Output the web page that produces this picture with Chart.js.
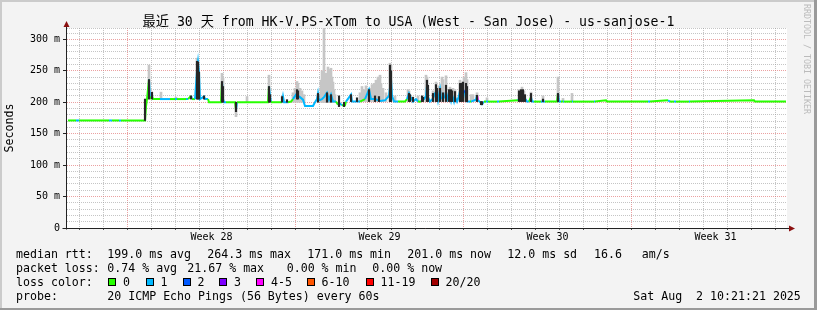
<!DOCTYPE html>
<html>
<head>
<meta charset="utf-8">
<script src="https://cdn.jsdelivr.net/npm/chart.js@4.4.1/dist/chart.umd.min.js"></script>
<style>
  html, body { margin: 0; padding: 0; background: #f3f3f3; }
  #wrap { position: relative; width: 817px; height: 310px; overflow: hidden; font-family: 'DejaVu Sans Mono', monospace; color: #000; }
  #chart { position: absolute; left: 0; top: 0; }
  #title { position: absolute; left: 0; top: 13.5px; width: 817px; text-align: center; white-space: pre;
           font-family: 'DejaVu Sans Mono', 'Noto Sans CJK SC', monospace; font-size: 13.2px; line-height: 16px; }
  .t { position: absolute; white-space: pre; font-size: 11.6px; line-height: 14px; }
  .sw { position: absolute; width: 6px; height: 6px; border: 1px solid #000; }
  #credit { position: absolute; left: 802px; top: 4px; writing-mode: vertical-rl; font-size: 8.3px; line-height: 10px; color: #bbb; white-space: pre; }
</style>
</head>
<body>
<div id="wrap">
  <canvas id="chart" width="817" height="310"></canvas>
  <div id="title">最近 30 天 from HK-V.PS-xTom to USA (West - San Jose) - us-sanjose-1</div>
  <div id="credit">RRDTOOL / TOBI OETIKER</div>
  <div id="legend"></div>
</div>
<script>
// x values are hours since the start of the 30 day window, y values are ms
const weekLabels = ['Week 28', 'Week 29', 'Week 30', 'Week 31'];
const weekLabelHours = [144.5, 312.5, 480.5, 648.5];
const weekLineHours = [60.5, 228.5, 396.5, 564.5];
const yLabelValues = [0, 50, 100, 150, 200, 250, 300];
const yLabelTexts = ['0', '50 m', '100 m', '150 m', '200 m', '250 m', '300 m'];

const lossLabels = ['0', '1', '2', '3', '4-5', '6-10', '11-19', '20/20'];
const lossColors = ['#26ff00', '#00b8ff', '#0059ff', '#7e00ff', '#ff00ff', '#ff5500', '#ff0000', '#a10000'];

// median rtt
const medianHours = [
  1, 9, 12, 42, 45, 52, 54, 78,
  79, 80, 82, 83, 85, 86, 93, 103, 108, 110, 119, 121, 124, 125, 128, 130, 131, 132, 133, 137, 138, 141, 142,
  154, 155, 156, 157, 159, 168, 169, 170,
  201, 202, 203, 204, 215, 216, 217, 221,
  224, 226, 229, 231, 233, 236, 238, 246, 248, 250, 251, 252, 255, 257, 260, 262, 264, 266, 269, 271,
  273, 275, 278, 279, 284, 285, 289, 293, 298, 302, 304, 308, 313, 318, 322, 324, 325, 327, 331, 338,
  340, 342, 344, 346, 349, 351, 354, 357, 359, 360, 361, 363,
  366, 368, 370, 371, 373, 374, 376, 378, 379, 381, 383, 384, 385, 387, 388, 390, 392, 394, 395, 396,
  398, 399, 400, 403, 404, 409, 410, 411, 414, 415, 417, 419, 421, 430, 432,
  451, 453, 455, 456, 458, 460, 462, 464, 465, 467, 474, 476, 478, 490, 491, 492, 494, 496, 497, 505,
  506, 527, 528, 539, 540, 581, 583, 601, 603, 607, 609, 622, 623, 687, 688, 719
];
const medianMs = [
  171, 171, 171, 171, 171, 171, 171, 171,
  193, 205, 236, 205, 210, 205, 205, 205, 205, 205, 205, 205, 210, 205, 205, 250, 264, 248, 205, 209, 205, 205, 200,
  200, 232, 205, 200, 200, 200, 188, 200,
  200, 225, 210, 200, 200, 209, 200, 200,
  201, 205, 212, 210, 208, 204, 194, 194, 200, 205, 214, 203, 205, 208, 215, 204, 212, 201, 201, 196,
  198, 195, 195, 201, 212, 201, 201, 201, 205, 220, 205, 205, 202, 203, 210, 237, 210, 201, 201, 201,
  205, 214, 207, 201, 205, 201, 201, 205, 210, 226, 208, 201,
  206, 214, 212, 203, 220, 207, 205, 210, 217, 204, 210, 203, 212, 201, 208, 201, 210, 227, 214, 220,
  215, 205, 201, 201, 201, 204, 211, 203, 199, 197, 201, 201, 201, 201, 201,
  203, 207, 212, 210, 206, 201, 201, 208, 201, 201, 201, 201, 201, 201, 214, 201, 201, 201, 201, 201,
  201, 201, 201, 203, 201, 201, 201, 203, 201, 201, 201, 201, 201, 203, 201, 201
];
// index into lossColors
const medianLoss = [
  0, 1, 0, 1, 0, 1, 0, 0,
  0, 0, 1, 0, 0, 0, 1, 0, 1, 0, 1, 0, 1, 0, 1, 1, 1, 1, 1, 1, 1, 0, 0,
  0, 1, 1, 1, 0, 0, 1, 0,
  0, 1, 1, 0, 1, 1, 1, 0,
  0, 1, 1, 1, 1, 1, 1, 1, 1, 1, 1, 1, 1, 1, 1, 1, 1, 1, 0, 1,
  1, 0, 0, 1, 1, 1, 1, 0, 1, 1, 1, 1, 1, 1, 1, 1, 1, 1, 0, 0,
  1, 1, 1, 1, 1, 0, 1, 1, 1, 4, 1, 1,
  1, 1, 1, 1, 1, 1, 1, 1, 1, 1, 1, 1, 1, 1, 1, 1, 1, 4, 1, 2,
  1, 1, 1, 0, 1, 1, 4, 1, 1, 1, 0, 1, 0, 1, 0,
  1, 1, 2, 4, 1, 1, 0, 1, 1, 0, 1, 1, 0, 0, 1, 1, 0, 1, 0, 1,
  0, 1, 0, 0, 0, 1, 0, 1, 0, 1, 0, 1, 0, 0, 0, 0
];

// smoke: spread of the 20 pings (light = outer, dark = dense part)
const lightHours = [82, 94, 109, 130, 131, 155, 156, 169, 180, 202, 226, 228, 230, 231, 233, 235, 237,
  254, 255, 256, 257, 258, 259, 260, 261, 262, 263, 264, 265, 266, 267, 268,
  293, 295, 297, 299, 301, 303, 305, 307, 309, 311, 312, 313, 314, 316, 319, 323, 324, 328,
  341, 342, 351, 359, 360, 366, 369, 372, 375, 376, 379, 383, 386, 388, 393, 395, 397, 399, 400,
  404, 406, 410, 420, 452, 455, 457, 464, 476, 491, 496, 505];
const lightLo = [205, 205, 205, 205, 205, 200, 200, 177, 200, 200, 200, 200, 200, 200, 200, 200, 200,
  200, 200, 200, 200, 200, 200, 200, 200, 200, 200, 200, 200, 200, 200, 200,
  201, 201, 201, 201, 201, 201, 201, 201, 201, 201, 201, 201, 201, 201, 201, 201, 201, 201,
  201, 201, 201, 201, 201, 201, 201, 201, 201, 201, 201, 201, 201, 201, 201, 201, 201, 201, 201,
  201, 201, 201, 201, 201, 201, 201, 201, 201, 201, 201, 201];
const lightHi = [259, 216, 208, 270, 266, 246, 238, 200, 209, 243, 215, 222, 233, 230, 222, 218, 212,
  235, 250, 246, 318, 240, 246, 238, 256, 245, 252, 254, 240, 232, 220, 212,
  215, 225, 220, 226, 218, 222, 228, 230, 235, 240, 236, 243, 230, 222, 215, 262, 259, 210,
  220, 218, 210, 243, 240, 218, 232, 226, 240, 236, 242, 224, 222, 220, 235, 232, 240, 247, 236,
  212, 212, 215, 207, 220, 224, 218, 216, 210, 240, 206, 214];

const darkHours = [78, 82, 85, 124, 130, 131, 132, 137, 155, 156, 169, 202, 203, 215, 220, 230, 231,
  251, 260, 264, 272, 277, 284, 290, 302, 308, 312, 323, 324, 342, 343, 346, 355, 356, 360, 361,
  366, 369, 370, 373, 376, 379, 382, 384, 385, 388, 393, 394, 396, 399, 400, 410, 414, 415,
  452, 454, 456, 458, 464, 476, 491];
const darkLo = [171, 205, 205, 205, 205, 205, 205, 205, 200, 200, 185, 200, 200, 200, 200, 205, 205,
  200, 200, 200, 193, 193, 201, 201, 201, 201, 201, 201, 201, 201, 201, 201, 201, 201, 201, 201,
  201, 201, 201, 201, 201, 201, 201, 201, 201, 201, 201, 201, 201, 201, 201, 201, 196, 196,
  201, 201, 201, 201, 201, 201, 201];
const darkHi = [205, 236, 216, 210, 265, 264, 248, 210, 233, 225, 200, 225, 212, 209, 204, 220, 218,
  214, 215, 212, 210, 200, 212, 207, 220, 210, 209, 259, 250, 214, 212, 208, 210, 208, 235, 227,
  214, 228, 222, 222, 215, 227, 220, 220, 218, 217, 230, 230, 232, 230, 225, 211, 201, 201,
  218, 220, 220, 212, 214, 205, 214];

// grid positions: one line per day, stronger line at the week boundary
const dayLineHours = [];
for (let k = 0; k < 30; k++) dayLineHours.push(12.5 + k * 24);
const yGridValues = [];
for (let v = 0; v <= 310; v += 10) yGridValues.push(v);
yGridValues.push(318);

const MONO = "'DejaVu Sans Mono', monospace";
const minorGrid = 'rgba(150,150,150,0.55)';
const majorGrid = 'rgba(225,110,110,0.65)';

// legend text below the chart
const legendRows = [
  [[16, 'median rtt:'], [107.3, '199.0 ms avg'], [207.3, '264.3 ms max'], [307.3, '171.0 ms min'],
   [407.3, '201.0 ms now'], [507.3, '12.0 ms sd'], [594, '16.6'], [641.7, 'am/s']],
  [[16, 'packet loss:'], [107.3, '0.74 % avg'], [187.3, '21.67 % max'], [286.7, '0.00 % min'], [372.3, '0.00 % now']],
  [[16, 'loss color:']],
  [[16, 'probe:'], [107.3, '20 ICMP Echo Pings (56 Bytes) every 60s'], [633.3, 'Sat Aug  2 10:21:21 2025']]
];
const swatchX = [108, 145.5, 182.5, 219, 256, 306.5, 365.5, 430.5];

const legend = document.getElementById('legend');
legendRows.forEach((row, r) => {
  row.forEach(([x, text]) => {
    const el = document.createElement('div');
    el.className = 't';
    el.style.left = x + 'px';
    el.style.top = (247 + r * 14) + 'px';
    el.textContent = text;
    legend.appendChild(el);
  });
});
lossLabels.forEach((label, i) => {
  const sw = document.createElement('div');
  sw.className = 'sw';
  sw.style.left = swatchX[i] + 'px';
  sw.style.top = '278px';
  sw.style.background = lossColors[i];
  legend.appendChild(sw);
  const el = document.createElement('div');
  el.className = 't';
  el.style.left = (swatchX[i] + 15) + 'px';
  el.style.top = '275px';
  el.textContent = label;
  legend.appendChild(el);
});

const frame = {
  id: 'frame',
  beforeDraw(chart) {
    const { ctx, chartArea: a, width, height } = chart;
    ctx.save();
    ctx.fillStyle = '#f3f3f3';
    ctx.fillRect(0, 0, width, height);
    ctx.fillStyle = '#cbcbcb';
    ctx.fillRect(0, 0, width, 2);
    ctx.fillRect(0, 0, 2, height);
    ctx.fillStyle = '#9a9a9a';
    ctx.fillRect(width - 3, 0, 3, height);
    ctx.fillRect(0, height - 2, width, 2);
    ctx.fillStyle = '#ffffff';
    ctx.fillRect(a.left, a.top, a.right - a.left, a.bottom - a.top);
    ctx.restore();
  },
  afterDatasetsDraw(chart) {
    const { ctx, chartArea: a } = chart;
    const x0 = a.left - 0.5, y0 = a.bottom + 0.5;
    ctx.save();
    ctx.strokeStyle = '#222';
    ctx.lineWidth = 1;
    ctx.beginPath();
    ctx.moveTo(x0, y0 + 1);
    ctx.lineTo(x0, a.top - 2);
    ctx.moveTo(x0 - 4, y0);
    ctx.lineTo(a.right + 2, y0);
    ctx.stroke();
    ctx.fillStyle = '#8b1010';
    ctx.beginPath();
    ctx.moveTo(x0, a.top - 7);
    ctx.lineTo(x0 - 3, a.top - 1);
    ctx.lineTo(x0 + 3, a.top - 1);
    ctx.closePath();
    ctx.fill();
    ctx.beginPath();
    ctx.moveTo(a.right + 8, y0);
    ctx.lineTo(a.right + 2, y0 - 3);
    ctx.lineTo(a.right + 2, y0 + 3);
    ctx.closePath();
    ctx.fill();
    ctx.restore();
  }
};

function tickValue(ctx) {
  return ctx.tick ? ctx.tick.value : null;
}

new Chart(document.getElementById('chart'), {
  data: {
    datasets: [
      {
        type: 'bar',
        order: 0,
        grouped: false,
        data: darkHours.map((h, i) => ({ x: h, y: [darkLo[i], darkHi[i]] })),
        backgroundColor: '#262626',
        borderWidth: 0,
        barThickness: 1.5
      },
      {
        type: 'line',
        order: 1,
        data: medianHours.map((h, i) => ({ x: h, y: medianMs[i] })),
        borderColor: lossColors[0],
        borderWidth: 2,
        pointRadius: 0,
        tension: 0,
        segment: {
          borderColor: ctx => lossColors[medianLoss[ctx.p0DataIndex]]
        }
      },
      {
        type: 'bar',
        order: 2,
        grouped: false,
        data: lightHours.map((h, i) => ({ x: h, y: [lightLo[i], lightHi[i]] })),
        backgroundColor: '#c6c6c6',
        borderWidth: 0,
        barThickness: 2
      }
    ]
  },
  options: {
    responsive: false,
    devicePixelRatio: 1,
    animation: false,
    layout: { padding: { left: 0, right: 30, top: 28, bottom: 62 } },
    plugins: {
      legend: { display: false },
      tooltip: { enabled: false },
      title: { display: false }
    },
    scales: {
      x: {
        type: 'linear',
        min: 0,
        max: 720,
        offset: false,
        afterBuildTicks: scale => {
          scale.ticks = [...dayLineHours, ...weekLabelHours].sort((a, b) => a - b).map(v => ({ value: v }));
        },
        afterFit: scale => { scale.height = 20; },
        ticks: {
          autoSkip: false,
          maxRotation: 0,
          minRotation: 0,
          padding: 1,
          color: '#000',
          font: { family: MONO, size: 10 },
          callback: v => {
            const i = weekLabelHours.indexOf(v);
            return i >= 0 ? weekLabels[i] : '';
          }
        },
        grid: {
          offset: false,
          lineWidth: 1,
          tickLength: 2,
          color: ctx => {
            const v = tickValue(ctx);
            if (weekLabelHours.includes(v)) return 'rgba(0,0,0,0)';
            return weekLineHours.includes(v) ? majorGrid : minorGrid;
          },
          tickColor: ctx => {
            const v = tickValue(ctx);
            return weekLabelHours.includes(v) ? 'rgba(0,0,0,0)' : '#555';
          }
        },
        border: { display: false, dash: [1, 1] }
      },
      y: {
        type: 'linear',
        min: 0,
        max: 318,
        afterBuildTicks: scale => {
          scale.ticks = yGridValues.map(v => ({ value: v }));
        },
        afterFit: scale => { scale.width = 67; },
        ticks: {
          autoSkip: false,
          padding: 3,
          color: '#000',
          font: { family: MONO, size: 10 },
          callback: v => {
            const i = yLabelValues.indexOf(v);
            return i >= 0 ? yLabelTexts[i] : '';
          }
        },
        grid: {
          lineWidth: 1,
          tickLength: 4,
          color: ctx => (tickValue(ctx) % 50 === 0 ? majorGrid : minorGrid),
          tickColor: ctx => (yLabelValues.includes(tickValue(ctx)) ? '#222' : 'rgba(0,0,0,0)')
        },
        border: { display: false, dash: [1, 1] },
        title: {
          display: true,
          text: 'Seconds',
          color: '#000',
          font: { family: MONO, size: 11.6 },
          padding: { top: 3, bottom: 0 }
        }
      }
    }
  },
  plugins: [frame]
});
</script>
</body>
</html>
